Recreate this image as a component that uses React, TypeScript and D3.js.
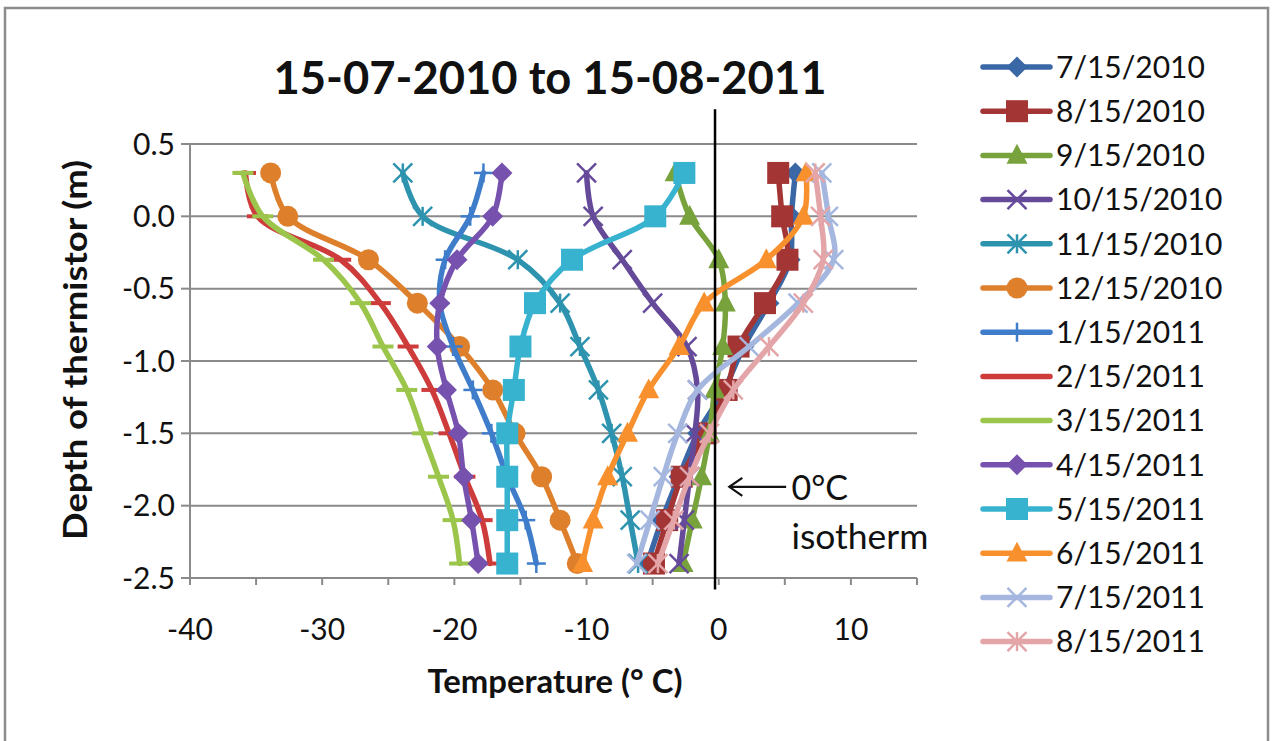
import React from "react";
import * as d3 from "d3";

const depths = [0.3, 0, -0.3, -0.6, -0.9, -1.2, -1.5, -1.8, -2.1, -2.4];

const seriesNames = [
  "7/15/2010", "8/15/2010", "9/15/2010", "10/15/2010", "11/15/2010", "12/15/2010",
  "1/15/2011", "2/15/2011", "3/15/2011", "4/15/2011", "5/15/2011", "6/15/2011",
  "7/15/2011", "8/15/2011",
];

const t20100715 = [5.8, 5.5, 5.4, 3.8, 1.9, 0.4, -1.6, -3.0, -4.3, -5.4];
const t20100815 = [4.5, 4.8, 5.2, 3.5, 1.5, 0.6, -1.0, -2.8, -3.9, -4.9];
const t20100915 = [-3.3, -2.2, 0.0, 0.5, 0.3, -0.3, -0.7, -1.3, -2.0, -2.7];
const t20101015 = [-10.0, -9.5, -7.3, -5.0, -2.4, -1.6, -1.8, -2.2, -2.6, -3.0];
const t20101115 = [-23.9, -22.4, -15.2, -12.0, -10.5, -9.1, -8.1, -7.3, -6.7, -6.1];
const t20101215 = [-33.9, -32.6, -26.5, -22.8, -19.6, -17.1, -15.4, -13.4, -12.0, -10.7];
const t20110115 = [-17.8, -18.8, -20.7, -21.1, -20.1, -18.6, -17.2, -16.0, -14.6, -13.8];
const t20110215 = [-35.8, -34.9, -28.6, -25.6, -23.5, -21.7, -20.4, -19.2, -17.9, -17.3];
const t20110315 = [-36.0, -34.5, -29.9, -27.1, -25.4, -23.6, -22.4, -21.2, -20.1, -19.6];
const t20110415 = [-16.4, -17.1, -19.8, -21.1, -21.3, -20.6, -19.7, -19.3, -18.7, -18.2];
const t20110515 = [-2.6, -4.8, -11.1, -13.9, -15.0, -15.5, -16.0, -16.0, -16.0, -16.0];
const t20110615 = [6.6, 6.4, 3.6, -1.1, -3.0, -5.3, -6.9, -8.4, -9.5, -10.3];
const t20110715 = [7.8, 8.3, 8.7, 6.0, 2.3, -1.6, -3.1, -4.2, -5.2, -6.2];
const t20110815 = [7.3, 7.7, 7.9, 6.4, 3.8, 1.1, -0.7, -2.2, -3.4, -4.6];

const seriesValues = [
  t20100715, t20100815, t20100915, t20101015, t20101115, t20101215,
  t20110115, t20110215, t20110315, t20110415, t20110515, t20110615,
  t20110715, t20110815,
];

const seriesColors = [
  "#3A67A6", "#A33535", "#78A23C", "#664A9A", "#2E93AE", "#DE7F2C",
  "#3F7DCB", "#CE3B3B", "#9CC54C", "#7652AE", "#37B2CF", "#F8902E",
  "#A5B7DE", "#E3A5A8",
];

const seriesMarkers = [
  "diamond", "square", "triangle", "x", "star", "circle",
  "plus", "dash", "dash", "diamond", "square", "triangle",
  "x", "star",
];

const xTickValues = [-40, -30, -20, -10, 0, 10];
const xMinorTicks = [-40, -35, -30, -25, -20, -15, -10, -5, 0, 5, 10, 15];
const yTickValues = [0.5, 0, -0.5, -1, -1.5, -2, -2.5];

const titleText = "15-07-2010 to 15-08-2011";
const xTitle = "Temperature (\u00B0 C)";
const yTitle = "Depth of thermistor (m)";
const isothermTemp = -0.28;

const FONT = "Lato, 'Open Sans', sans-serif";

const fmt = (v: number) => d3.format(".1f")(v).replace("\u2212", "-");

function Marker({ type, cx, cy, color, s }: { type: string; cx: number; cy: number; color: string; s: number }) {
  const h = s / 2;
  switch (type) {
    case "diamond":
      return <path d={`M${cx},${cy - h}L${cx + h},${cy}L${cx},${cy + h}L${cx - h},${cy}Z`} fill={color} />;
    case "square":
      return <rect x={cx - h} y={cy - h} width={s} height={s} fill={color} />;
    case "triangle":
      return <path d={`M${cx},${cy - h * 1.1}L${cx + h},${cy + h * 0.8}L${cx - h},${cy + h * 0.8}Z`} fill={color} />;
    case "circle":
      return <circle cx={cx} cy={cy} r={h} fill={color} />;
    case "x":
      return (
        <g stroke={color} strokeWidth={2.5}>
          <line x1={cx - h} y1={cy - h} x2={cx + h} y2={cy + h} />
          <line x1={cx - h} y1={cy + h} x2={cx + h} y2={cy - h} />
        </g>
      );
    case "star":
      return (
        <g stroke={color} strokeWidth={2.5}>
          <line x1={cx - h} y1={cy - h} x2={cx + h} y2={cy + h} />
          <line x1={cx - h} y1={cy + h} x2={cx + h} y2={cy - h} />
          <line x1={cx} y1={cy - h} x2={cx} y2={cy + h} />
        </g>
      );
    case "plus":
      return (
        <g stroke={color} strokeWidth={2.5}>
          <line x1={cx} y1={cy - h} x2={cx} y2={cy + h} />
          <line x1={cx - h} y1={cy} x2={cx + h} y2={cy} />
        </g>
      );
    case "dash":
      return <line x1={cx - h} y1={cy} x2={cx + h} y2={cy} stroke={color} strokeWidth={4} />;
    default:
      return null;
  }
}

const markerSize = (t: string) => (t === "square" ? 22 : t === "x" || t === "star" || t === "plus" ? 19 : 21);

export default function App() {
  const x = d3.scaleLinear().domain([-40, 15]).range([190, 917]);
  const y = d3.scaleLinear().domain([-2.5, 0.5]).range([578, 144]);
  const line = d3
    .line<[number, number]>()
    .x((d) => x(d[0]))
    .y((d) => y(d[1]))
    .curve(d3.curveCatmullRom.alpha(0.5));

  const legendX0 = 983;
  const legendY0 = 67;
  const legendStep = 44.2;

  return (
    <svg width={1272} height={741} style={{ position: "absolute", left: 0, top: 0, background: "#fff" }} fontFamily={FONT}>
      <rect x={5} y={8} width={1263} height={745} fill="#fff" stroke="#8c8c8c" strokeWidth={2.5} />

      {/* title */}
      <text x={550} y={94} textAnchor="middle" fontSize={46} fontWeight={700} fill="#111" textLength={553} lengthAdjust="spacingAndGlyphs">
        {titleText}
      </text>

      {/* gridlines */}
      {yTickValues.map((v) => (
        <line key={"g" + v} x1={x(-40)} x2={x(15)} y1={y(v)} y2={y(v)} stroke="#8a8a8a" strokeWidth={2} />
      ))}
      {/* y axis */}
      <line x1={x(-40)} x2={x(-40)} y1={y(0.5)} y2={y(-2.5)} stroke="#8a8a8a" strokeWidth={2} />
      {yTickValues.map((v) => (
        <g key={"yt" + v}>
          <line x1={x(-40) - 9} x2={x(-40)} y1={y(v)} y2={y(v)} stroke="#8a8a8a" strokeWidth={2} />
          <text x={175} y={y(v)} dy="0.36em" textAnchor="end" fontSize={30} fill="#111">
            {fmt(v)}
          </text>
        </g>
      ))}
      {/* x axis ticks */}
      {xMinorTicks.map((v) => (
        <line key={"xt" + v} x1={x(v)} x2={x(v)} y1={y(-2.5)} y2={y(-2.5) + 7} stroke="#8a8a8a" strokeWidth={2} />
      ))}
      {xTickValues.map((v) => (
        <text key={"xl" + v} x={x(v)} y={640} textAnchor="middle" fontSize={30} fill="#111">
          {String(v)}
        </text>
      ))}

      {/* axis titles */}
      <text x={555} y={693} textAnchor="middle" fontSize={32} fontWeight={700} fill="#111" textLength={255} lengthAdjust="spacingAndGlyphs">
        {xTitle}
      </text>
      <text transform={`translate(87,350) rotate(-90)`} textAnchor="middle" fontSize={33} fontWeight={700} fill="#111" textLength={380} lengthAdjust="spacingAndGlyphs">
        {yTitle}
      </text>

      {/* series */}
      {seriesValues.map((vals, i) => {
        const pts: [number, number][] = vals.map((t, j) => [t, depths[j]]);
        return (
          <g key={"s" + i}>
            <path d={line(pts) || ""} fill="none" stroke={seriesColors[i]} strokeWidth={5.5} strokeLinejoin="round" strokeLinecap="round" />
            {pts.map((p, j) => (
              <Marker key={j} type={seriesMarkers[i]} cx={x(p[0])} cy={y(p[1])} color={seriesColors[i]} s={markerSize(seriesMarkers[i])} />
            ))}
          </g>
        );
      })}

      {/* isotherm line */}
      <line x1={x(isothermTemp)} x2={x(isothermTemp)} y1={y(0.74)} y2={y(-2.58)} stroke="#000" strokeWidth={2.5} />
      {/* annotation arrow */}
      <g stroke="#111" strokeWidth={2.2} fill="none">
        <line x1={x(0.8)} x2={x(5.1)} y1={y(-1.87)} y2={y(-1.87)} />
        <polyline points={`${x(0.8) + 13},${y(-1.87) - 9} ${x(0.8)},${y(-1.87)} ${x(0.8) + 13},${y(-1.87) + 9}`} />
      </g>
      <text x={x(5.5)} y={500} fontSize={34} fill="#111">0°C</text>
      <text x={x(5.5)} y={549} fontSize={34} fill="#111" textLength={137} lengthAdjust="spacingAndGlyphs">isotherm</text>

      {/* legend */}
      {seriesNames.map((name, i) => {
        const ly = legendY0 + i * legendStep;
        return (
          <g key={"l" + i}>
            <line x1={legendX0} x2={legendX0 + 67} y1={ly} y2={ly} stroke={seriesColors[i]} strokeWidth={5.5} strokeLinecap="round" />
            <Marker type={seriesMarkers[i]} cx={legendX0 + 34} cy={ly} color={seriesColors[i]} s={markerSize(seriesMarkers[i])} />
            <text x={1056} y={ly} dy="0.36em" fontSize={30} fill="#111">
              {name}
            </text>
          </g>
        );
      })}
    </svg>
  );
}
